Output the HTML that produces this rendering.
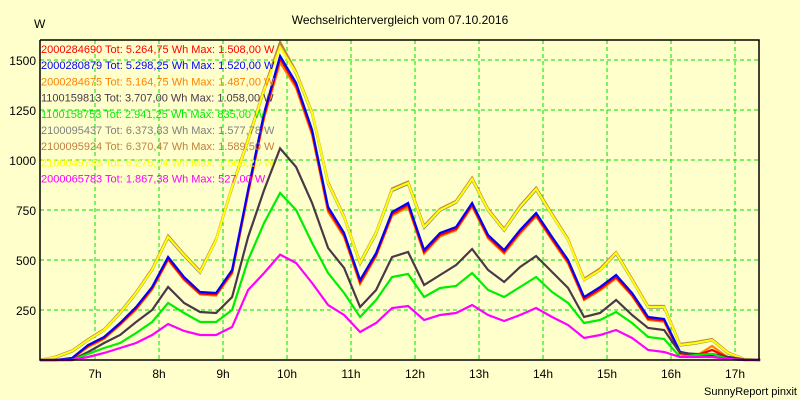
<!DOCTYPE html>
<html><head><meta charset="utf-8"><style>
body{margin:0;background:#ffffcc;}
svg{display:block;font-family:"Liberation Sans",sans-serif;}
</style></head><body>
<svg id="chart" width="800" height="400" viewBox="0 0 800 400">
<rect x="0" y="0" width="800" height="400" fill="#ffffcc"/>
<text x="400" y="24" text-anchor="middle" font-size="12" fill="#000">Wechselrichtervergleich vom 07.10.2016</text>
<text x="34" y="28" font-size="12" fill="#000">W</text>
<text x="797" y="395" text-anchor="end" font-size="11" fill="#000">SunnyReport pinxit</text>
<g id="grid"></g>
<g id="series"></g>
<g id="axes"></g>
<g id="legend"></g>
</svg>
<script>
const yTicks = [250, 500, 750, 1000, 1250, 1500];
const xTickHours = [7, 8, 9, 10, 11, 12, 13, 14, 15, 16, 17];
const xTickLabels = ["7h","8h","9h","10h","11h","12h","13h","14h","15h","16h","17h"];
const startHour = 6 + 8.5/60;
const stepHours = 0.25;
const blueVals = [0,0,10,75,115,185,265,365,515,415,340,335,450,850,1235,1520,1385,1150,765,635,400,535,740,785,550,635,665,785,625,550,650,735,615,500,315,365,425,335,215,205,40,25,25,15,2,0];
const redVals = [0,0,8,70,110,180,258,358,505,405,332,328,440,840,1220,1508,1372,1138,752,625,388,525,730,775,540,625,655,775,615,540,640,725,605,490,305,355,415,325,205,198,35,22,50,12,2,0];
const orangeVals = [0,0,5,65,105,175,252,352,500,400,328,322,432,830,1210,1487,1360,1125,740,615,380,518,722,765,532,618,648,768,608,532,632,718,598,482,300,348,408,320,200,192,30,20,70,12,0,0];
const darkVals = [0,0,0,40,85,125,190,250,365,285,240,235,315,615,850,1058,965,785,560,460,265,350,515,540,375,425,475,555,450,390,465,520,440,360,215,235,300,225,160,150,35,30,30,15,3,0];
const greenVals = [0,0,0,30,60,85,135,190,285,235,190,190,250,500,685,835,750,585,435,335,215,300,415,430,315,360,370,435,350,315,365,415,340,285,185,200,240,185,115,105,15,25,30,5,0,0];
const grayVals = [0,12,42,98,148,232,332,448,610,520,436,598,860,1095,1345,1578,1430,1230,880,712,480,630,845,880,660,746,786,900,746,646,760,850,722,598,398,448,530,398,262,262,72,82,98,32,4,0];
const brownVals = [0,18,48,104,154,240,340,456,622,530,446,606,870,1108,1358,1590,1442,1240,892,720,490,640,858,892,672,756,796,912,756,656,772,862,732,606,406,458,540,406,270,270,80,90,105,38,6,0];
const yellowVals = [0,15,45,100,150,235,335,450,615,525,440,600,865,1100,1350,1565,1435,1235,885,715,485,635,850,885,665,750,790,905,750,650,765,855,725,600,400,450,535,400,265,265,75,85,100,35,5,0];
const magentaVals = [0,0,0,15,35,60,85,125,180,145,125,125,165,350,435,527,485,385,275,225,140,185,260,270,200,225,235,275,225,195,225,260,215,175,110,125,150,110,50,40,15,15,15,5,0,0];
const legendLabels = [
 "2000284690 Tot: 5.264,75 Wh Max: 1.508,00 W",
 "2000280879 Tot: 5.298,25 Wh Max: 1.520,00 W",
 "2000284675 Tot: 5.164,75 Wh Max: 1.487,00 W",
 "1100159813 Tot: 3.707,00 Wh Max: 1.058,00 W",
 "1100158753 Tot: 2.941,25 Wh Max: 835,00 W",
 "2100095437 Tot: 6.373,83 Wh Max: 1.577,78 W",
 "2100095924 Tot: 6.370,47 Wh Max: 1.589,50 W",
 "2100049733 Tot: 6.275,04 Wh Max: 1.565,20 W",
 "2000065783 Tot: 1.867,38 Wh Max: 527,00 W"];
const legendColors = ["#ff0000","#0000ff","#ff8000","#4a3848","#00ee00","#808080","#c08040","#ffff00","#ff00ff"];

const NS = "http://www.w3.org/2000/svg";
const L = 40, R = 759, T = 40, B = 360;
function xScale(h){ return 95 + (h - 7) * 64; }
function yScale(v){ return B - v * 0.2; }
function mk(tag, attrs, parent){ const e = document.createElementNS(NS, tag); for (const k in attrs) e.setAttribute(k, attrs[k]); parent.appendChild(e); return e; }

const grid = document.getElementById('grid');
yTicks.forEach(v => {
  const ln = mk('line', {x1:L, x2:R, y1:yScale(v), y2:yScale(v), stroke:'#00dd00', 'stroke-dasharray':'4,3', 'stroke-width':1}, grid);
  
  
});
xTickHours.forEach(h => {
  const ln = mk('line', {x1:xScale(h), x2:xScale(h), y1:T, y2:B, stroke:'#00dd00', 'stroke-dasharray':'4,3', 'stroke-width':1}, grid);
  
  
});

const seriesG = document.getElementById('series');
const seriesList = [
 [grayVals, "#808080", "series-2100095437"],
 [brownVals, "#c08040", "series-2100095924"],
 [yellowVals, "#ffff00", "series-2100049733"],
 [orangeVals, "#ff8000", "series-2000284675"],
 [redVals, "#ff0000", "series-2000284690"],
 [blueVals, "#0000ff", "series-2000280879"],
 [darkVals, "#4a3848", "series-1100159813"],
 [greenVals, "#00ee00", "series-1100158753"],
 [magentaVals, "#ff00ff", "series-2000065783"]];
seriesList.forEach(s => {
  const pts = s[0].map((v, i) => xScale(startHour + i * stepHours).toFixed(1) + ',' + yScale(v).toFixed(1)).join(' ');
  const pl = mk('polyline', {points: pts, fill: 'none', stroke: s[1], 'stroke-width': 2.2, 'stroke-linejoin': 'miter'}, seriesG);
  
  
});

const axes = document.getElementById('axes');
const ax1 = mk('path', {d:`M${L},${T} L${L},${B} L${R},${B} L${R},${T} L${L},${T}`, fill:'none', stroke:'#000', 'stroke-width':1.5}, axes);


yTicks.forEach(v => {
  const t = mk('text', {x:36, y:yScale(v)+5, 'text-anchor':'end', 'font-size':12}, axes);
  t.textContent = String(v);
  
  
});
xTickHours.forEach((h, i) => {
  const t = mk('text', {x:xScale(h), y:378, 'text-anchor':'middle', 'font-size':12}, axes);
  t.textContent = xTickLabels[i];
  
  
});

const legend = document.getElementById('legend');
legendLabels.forEach((lab, i) => {
  const t = mk('text', {x:41, y:53 + i*16.2, 'font-size':11, fill:legendColors[i]}, legend);
  t.textContent = lab;
  
  
});
</script>
</body></html>
